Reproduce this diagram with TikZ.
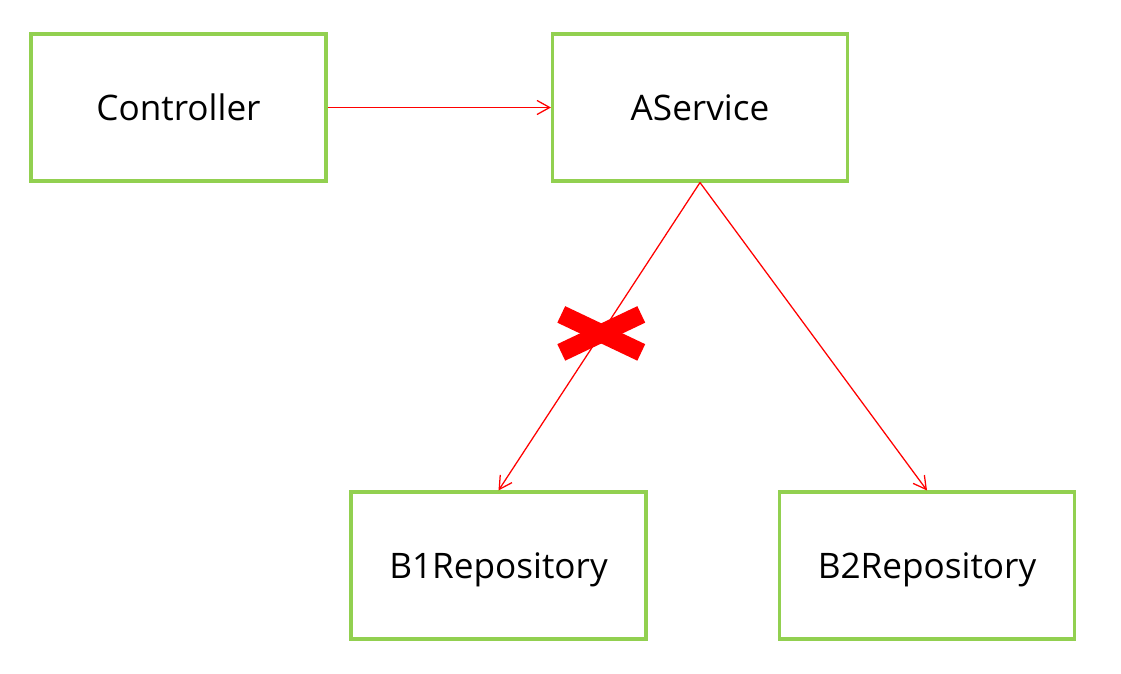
\documentclass[tikz,border=0pt]{standalone}
\usepackage{fontspec}
\setmainfont{Open Sans}
\usetikzlibrary{arrows.meta}

\definecolor{boxgreen}{RGB}{146,208,80}

\tikzset{
	layer/.style={draw=boxgreen, line width=2.2pt, fill=white,
		minimum width=295*0.025cm, minimum height=147*0.025cm,
		inner sep=0pt, text height=18pt, text depth=0pt,
		font=\fontsize{25}{30}\selectfont},
	call/.style={draw=red, line width=0.9pt, -{Straight Barb[length=9pt,width=10pt]}},
	cross/.style={draw=red, line width=13pt}
}

\begin{document}
\begin{tikzpicture}[x=0.025cm, y=-0.025cm]
\useasboundingbox (0,0) rectangle (1121,674);

\node[layer] (ctrl) at (178.5,107.5) {Controller};
\node[layer] (asvc) at (700,107.5) {AService};
\node[layer] (brepo1) at (498.5,565.5) {B1Repository};
\node[layer] (brepo2) at (927,565.5) {B2Repository};

\draw[call] (ctrl.east) -- (asvc.west);
\draw[call] (asvc.south) -- (brepo1.north)
	coordinate[pos=0.49] (cut);
\draw[call] (asvc.south) -- (brepo2.north);

% the broken call
\draw[cross] ([shift={(-40,-19)}]cut) -- ([shift={(40,19)}]cut);
\draw[cross] ([shift={(-40,19)}]cut) -- ([shift={(40,-19)}]cut);
\end{tikzpicture}
\end{document}
